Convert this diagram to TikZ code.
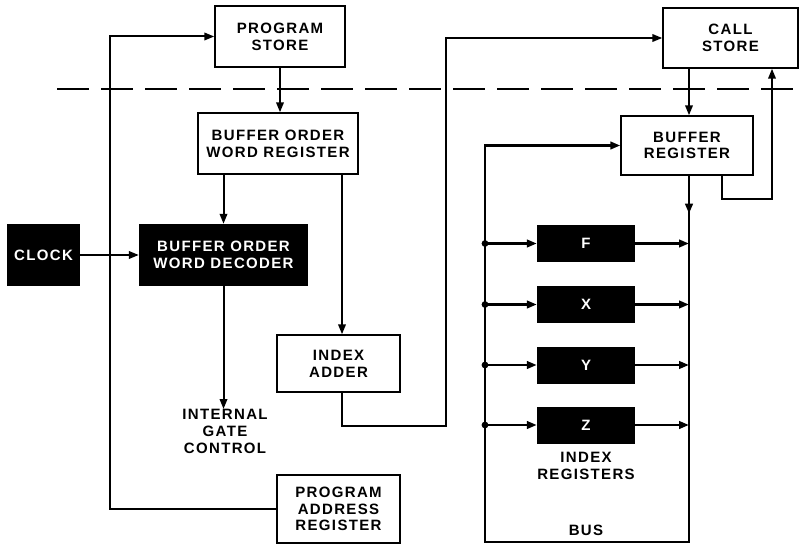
\documentclass[tikz,border=0pt]{standalone}
\usepackage{fontspec}
\setmainfont{Liberation Sans}[LetterSpace=9]
\usetikzlibrary{arrows.meta}
\begin{document}
\begin{tikzpicture}[x=1pt,y=-1pt,
  lab/.style={font=\fontsize{15}{16.8}\selectfont\bfseries,align=center,inner sep=0pt},
  wbox/.style={lab,draw,line width=1.4pt,fill=white},
  bbox/.style={lab,fill=black,text=white},
  conn/.style={line width=2pt,-{Triangle[length=10pt,width=7.5pt]}},
  busarr/.style={line width=2.8pt,-{Triangle[length=10pt,width=7.5pt]}}]
\useasboundingbox (0,0) rectangle (799,545);
% dashed boundary
\draw[line width=1.4pt,dash pattern=on 32pt off 12pt] (57,89) -- (799,89);
% boxes
\node[wbox,minimum width=130pt,minimum height=61pt] (ps) at (280,36.5) {PROGRAM\\STORE};
\node[wbox,minimum width=135pt,minimum height=60pt] (cs) at (730.5,38) {CALL\\STORE};
\node[wbox,minimum width=160pt,minimum height=61pt] (bowr) at (278,143.5) {BUFFER ORDER\\WORD REGISTER};
\node[wbox,minimum width=132pt,minimum height=59pt] (br) at (687,145.5) {BUFFER\\REGISTER};
\node[bbox,minimum width=73pt,minimum height=62pt] (clk) at (43.5,255) {CLOCK};
\node[bbox,minimum width=169pt,minimum height=62pt] (dec) at (223.5,255) {BUFFER ORDER\\WORD DECODER};
\node[wbox,minimum width=123pt,minimum height=57pt] (ia) at (338.5,363.5) {INDEX\\ADDER};
\node[wbox,minimum width=123pt,minimum height=68pt] (par) at (338.5,509) {PROGRAM\\ADDRESS\\REGISTER};
\node[lab,anchor=north] (igc) at (225,409) {INTERNAL\\GATE\\CONTROL};
\node[bbox,minimum width=98pt,minimum height=37pt] (rf) at (586,243.5) {F};
\node[bbox,minimum width=98pt,minimum height=37pt] (rx) at (586,304.5) {X};
\node[bbox,minimum width=98pt,minimum height=37pt] (ry) at (586,365) {Y};
\node[bbox,minimum width=98pt,minimum height=37pt] (rz) at (586,425) {Z};
\node[lab] (irl) at (586,466) {INDEX\\REGISTERS};
\node[lab] (busl) at (586,530) {BUS};
% coordinates
\coordinate (lt) at (110,36.5);
\coordinate (bx) at (342,0);
\coordinate (j1) at (446,426);
\coordinate (bro) at (722,0);
\coordinate (rb) at (772,199);
\coordinate (busBR) at (689,542);
\coordinate (busBL) at (485,542);
% program loop
\draw[conn] (par.west) -| (lt) -- (ps.west);
\draw[conn] (ps.south) -- (ps.south |- bowr.north);
\draw[conn] (dec.north |- bowr.south) -- (dec.north);
\draw[conn] (clk.east) -- (dec.west);
\draw[conn] (dec.south) -- (dec.south |- igc.north);
\draw[conn] (bx |- bowr.south) -- (bx |- ia.north);
\draw[conn] (bx |- ia.south) |- (j1) |- (cs.west);
\draw[conn] (cs.south -| busBR) -- (br.north -| busBR);
\draw[conn] (bro |- br.south) |- (rb) -- (rb |- cs.south);
% bus
\draw[busarr] (busBR |- br.south) -- (busBR) -- (busBL) |- (br.west);
\draw[busarr] (busBR |- br.south) -- ++(0,38);
\foreach \r in {rf,rx,ry,rz}{
  \fill (busBL |- \r.west) circle (3.4pt);
  \draw[busarr] (busBL |- \r.west) -- (\r.west);
  \draw[busarr] (\r.east) -- (busBR |- \r.east);
}
\end{tikzpicture}
\end{document}
